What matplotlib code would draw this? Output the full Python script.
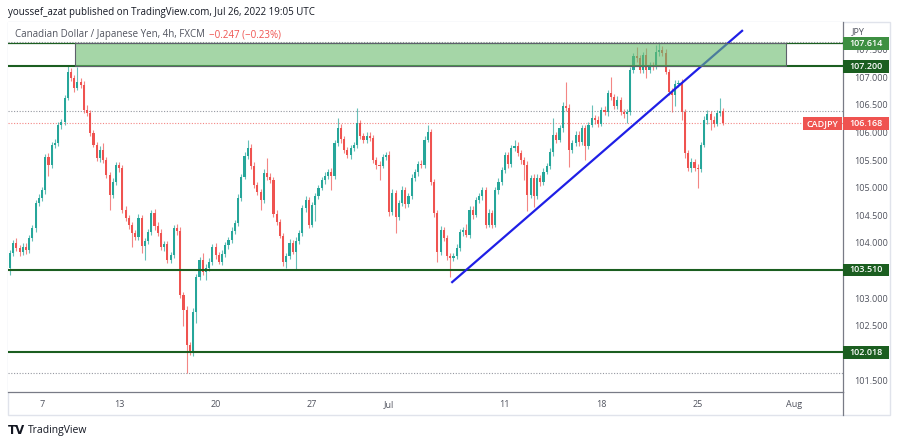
import matplotlib
matplotlib.use("Agg")
import matplotlib.pyplot as plt
import matplotlib.transforms as mtransforms
from matplotlib.patches import Rectangle
from matplotlib.lines import Line2D
import numpy as np

plt.rcParams['font.family'] = ['Open Sans', 'DejaVu Sans']

# ---------------------------------------------------------------------------
# CADJPY 4h candles
# ---------------------------------------------------------------------------
first_open = 103.55
closes = [
    103.82, 104.00, 103.91, 103.84, 103.93, 103.87, 104.09, 104.27, 104.72, 104.82,
    104.96, 105.56, 105.41, 105.78, 105.81, 106.14, 106.19, 106.63, 107.10, 106.99,
    106.81, 106.92, 106.86, 106.41, 106.36, 105.99, 105.78, 105.54, 105.68, 105.50,
    105.23, 104.87, 105.10, 105.41, 105.36, 104.60, 104.45, 104.33, 104.18, 104.11,
    104.45, 103.95, 104.04, 104.20, 104.54, 104.31, 104.18, 103.93, 103.98, 103.69,
    103.78, 104.27, 104.22, 103.06, 102.79, 102.15, 102.03, 102.75, 103.38, 103.69,
    103.47, 103.55, 103.66, 103.93, 103.78, 103.66, 103.80, 103.96, 104.05, 104.22,
    104.36, 104.82, 105.20, 105.58, 105.72, 105.40, 105.05, 104.92, 104.78, 105.27,
    105.20, 105.14, 104.53, 104.38, 104.13, 103.66, 103.76, 104.00, 103.84, 104.04,
    104.18, 104.63, 104.78, 104.33, 104.69, 104.85, 105.00, 105.14, 105.21, 105.29,
    105.21, 105.81, 106.08, 105.88, 105.68, 105.59, 105.72, 105.78, 106.17, 105.94,
    105.87, 105.94, 105.90, 105.50, 105.41, 105.40, 105.56, 105.59, 104.56, 104.91,
    104.47, 104.72, 104.96, 104.71, 104.85, 105.18, 105.29, 105.43, 105.41, 105.87,
    106.01, 105.10, 104.54, 103.84, 104.24, 104.09, 103.76, 103.73, 103.76, 103.91,
    104.20, 104.24, 104.15, 104.60, 104.51, 104.78, 104.85, 104.96, 104.33, 104.54,
    104.33, 104.96, 105.10, 105.32, 105.59, 105.43, 105.72, 105.76, 105.63, 105.50,
    105.41, 104.87, 105.18, 104.85, 105.18, 105.10, 105.29, 105.40, 105.65, 105.96,
    105.87, 106.08, 106.48, 106.45, 105.68, 105.81, 105.96, 105.83, 106.08, 105.76,
    106.14, 106.26, 106.23, 106.16, 106.41, 106.37, 106.72, 106.64, 106.48, 106.59,
    106.37, 106.34, 106.37, 107.13, 107.39, 107.35, 107.13, 107.41, 107.13, 107.21,
    107.19, 107.46, 107.50, 107.44, 107.10, 106.74, 106.68, 106.88, 106.90, 106.37,
    105.63, 105.36, 105.47, 105.36, 105.34, 105.78, 106.23, 106.34, 106.23, 106.16,
    106.36, 106.38, 106.168,
]

# wick lengths above / below the body (JPY)
up_wick = [
    0.05, 0.06, 0.08, 0.05, 0.07, 0.06, 0.05, 0.06, 0.05, 0.07,
    0.06, 0.05, 0.07, 0.05, 0.08, 0.05, 0.06, 0.05, 0.12, 0.07,
    0.05, 0.27, 0.06, 0.07, 0.08, 0.05, 0.06, 0.05, 0.07, 0.12,
    0.06, 0.05, 0.07, 0.05, 0.06, 0.05, 0.07, 0.06, 0.05, 0.06,
    0.07, 0.06, 0.05, 0.06, 0.05, 0.08, 0.06, 0.07, 0.05, 0.06,
    0.05, 0.06, 0.07, 0.06, 0.05, 0.06, 0.05, 0.07, 0.06, 0.05,
    0.12, 0.06, 0.07, 0.05, 0.06, 0.05, 0.07, 0.06, 0.05, 0.06,
    0.05, 0.06, 0.05, 0.06, 0.15, 0.07, 0.06, 0.05, 0.06, 0.07,
    0.27, 0.06, 0.05, 0.07, 0.06, 0.05, 0.06, 0.07, 0.05, 0.06,
    0.05, 0.06, 0.07, 0.06, 0.05, 0.06, 0.05, 0.06, 0.07, 0.05,
    0.06, 0.05, 0.18, 0.07, 0.06, 0.05, 0.06, 0.05, 0.28, 0.06,
    0.05, 0.07, 0.06, 0.05, 0.06, 0.07, 0.05, 0.06, 0.08, 0.06,
    0.05, 0.06, 0.07, 0.06, 0.05, 0.06, 0.05, 0.06, 0.07, 0.06,
    0.13, 0.06, 0.05, 0.06, 0.07, 0.05, 0.06, 0.05, 0.06, 0.07,
    0.06, 0.05, 0.10, 0.06, 0.07, 0.05, 0.06, 0.05, 0.06, 0.07,
    0.05, 0.06, 0.07, 0.05, 0.06, 0.05, 0.06, 0.10, 0.06, 0.05,
    0.06, 0.07, 0.05, 0.06, 0.07, 0.05, 0.06, 0.05, 0.06, 0.30,
    0.05, 0.06, 0.07, 0.44, 0.06, 0.05, 0.06, 0.07, 0.05, 0.06,
    0.05, 0.24, 0.06, 0.07, 0.05, 0.06, 0.05, 0.28, 0.06, 0.07,
    0.05, 0.06, 0.05, 0.06, 0.05, 0.16, 0.06, 0.05, 0.12, 0.06,
    0.07, 0.13, 0.114, 0.06, 0.07, 0.05, 0.06, 0.07, 0.05, 0.06,
    0.05, 0.06, 0.07, 0.05, 0.06, 0.05, 0.06, 0.07, 0.05, 0.06,
    0.05, 0.25, 0.06,
]
dn_wick = [
    0.13, 0.06, 0.05, 0.07, 0.06, 0.08, 0.05, 0.06, 0.07, 0.05,
    0.06, 0.07, 0.20, 0.05, 0.06, 0.05, 0.07, 0.06, 0.05, 0.06,
    0.07, 0.05, 0.06, 0.05, 0.07, 0.06, 0.05, 0.06, 0.07, 0.05,
    0.06, 0.27, 0.05, 0.06, 0.07, 0.05, 0.06, 0.07, 0.25, 0.06,
    0.05, 0.13, 0.26, 0.06, 0.05, 0.07, 0.06, 0.05, 0.07, 0.06,
    0.05, 0.06, 0.07, 0.06, 0.30, 0.50, 0.06, 0.07, 0.20, 0.05,
    0.06, 0.15, 0.05, 0.06, 0.07, 0.05, 0.06, 0.05, 0.07, 0.06,
    0.05, 0.06, 0.07, 0.05, 0.06, 0.07, 0.05, 0.06, 0.18, 0.05,
    0.06, 0.05, 0.07, 0.06, 0.05, 0.07, 0.11, 0.06, 0.05, 0.32,
    0.06, 0.05, 0.07, 0.06, 0.05, 0.30, 0.06, 0.05, 0.07, 0.06,
    0.25, 0.05, 0.06, 0.07, 0.05, 0.06, 0.07, 0.05, 0.06, 0.05,
    0.06, 0.07, 0.05, 0.06, 0.07, 0.26, 0.05, 0.06, 0.07, 0.05,
    0.29, 0.06, 0.05, 0.07, 0.06, 0.05, 0.06, 0.07, 0.05, 0.06,
    0.05, 0.06, 0.07, 0.18, 0.06, 0.05, 0.07, 0.35, 0.06, 0.05,
    0.06, 0.07, 0.05, 0.06, 0.07, 0.05, 0.06, 0.07, 0.06, 0.05,
    0.06, 0.05, 0.07, 0.06, 0.05, 0.07, 0.06, 0.05, 0.06, 0.07,
    0.27, 0.30, 0.06, 0.20, 0.05, 0.07, 0.06, 0.05, 0.06, 0.07,
    0.06, 0.05, 0.07, 0.06, 0.30, 0.05, 0.06, 0.07, 0.05, 0.25,
    0.06, 0.05, 0.07, 0.06, 0.05, 0.06, 0.07, 0.05, 0.06, 0.05,
    0.06, 0.07, 0.17, 0.05, 0.06, 0.07, 0.05, 0.06, 0.14, 0.05,
    0.06, 0.05, 0.07, 0.06, 0.05, 0.07, 0.31, 0.20, 0.06, 0.14,
    0.10, 0.06, 0.07, 0.05, 0.35, 0.06, 0.05, 0.07, 0.18, 0.06,
    0.05, 0.06, 0.03,
]

# time axis (bar index of first bar of the day)
date_ticks = [10, 34, 64, 94, 118, 154, 184, 214, 244]
date_labels = ["7", "13", "20", "27", "Jul", "11", "18", "25", "Aug"]

# price scale labels shown by the chart
price_ticks = [101.5, 102.5, 103.0, 104.0, 104.5, 105.0, 105.5, 106.0, 106.5, 107.0, 107.5]

# drawings
levels = [107.200, 103.510, 102.018]
zone_top, zone_bottom = 107.614, 107.200
zone_start, zone_end = 20.3, 241.5
trend_x = [137.6, 227.8]
trend_y = [103.29, 107.84]
prev_close = 106.39
last_price = 106.168
low_line = 101.645

UP = '#26a69a'
DOWN = '#ef5350'
LEVEL = '#1b5e20'

opens = [first_open] + closes[:-1]
o = np.array(opens)
c = np.array(closes)
hi = np.maximum(o, c) + np.array(up_wick)
lo = np.minimum(o, c) - np.array(dn_wick)
idx = np.arange(len(closes))
cols = np.where(c >= o, UP, DOWN)

W, H = 900, 445
fig = plt.figure(figsize=(9, 4.45), dpi=100)
ax = fig.add_axes([8 / W, 1 - 392 / H, (843 - 8) / W, (392 - 22) / H])

# candles
ax.vlines(idx, lo, hi, colors=cols, linewidth=0.8, alpha=0.7, zorder=2)
body = np.abs(c - o)
body = np.where(body < 0.015, 0.015, body)
ax.bar(idx, body, bottom=np.minimum(o, c), width=0.66, color=cols, linewidth=0, zorder=3)

# horizontal levels
for lv in levels:
    ax.axhline(lv, color=LEVEL, linewidth=1.5, zorder=4)
ax.axhline(zone_top, color=LEVEL, linewidth=0.9, zorder=4)

# dotted price lines
ax.axhline(107.63, color='#9598a1', linewidth=0.8, linestyle=(0, (1, 1.5)), zorder=1)
ax.axhline(prev_close, color='#9598a1', linewidth=0.8, linestyle=(0, (1, 1.5)), zorder=1)
ax.axhline(last_price, color=DOWN, linewidth=0.8, linestyle=(0, (1, 1.5)), alpha=0.7, zorder=1)
ax.axhline(low_line, color='#9598a1', linewidth=0.8, linestyle=(0, (1, 1.5)), zorder=1)

# trend line
ax.plot(trend_x, trend_y, color='#1f1fe6', linewidth=1.6, zorder=5)

# green zone (drawn over the line, semi transparent)
ax.add_patch(Rectangle((zone_start, zone_bottom), zone_end - zone_start, zone_top - zone_bottom,
                       facecolor='#69bb6c', alpha=0.6, edgecolor='none', zorder=6))
ax.add_patch(Rectangle((zone_start, zone_bottom), zone_end - zone_start, zone_top - zone_bottom,
                       facecolor='none', edgecolor='#5d606b', linewidth=0.8, zorder=6))

ax.set_xlim(-0.6, 259.2)
ax.set_ylim(101.30, 108.00)

# axes styling
for s in ['left', 'top']:
    ax.spines[s].set_visible(False)
ax.spines['right'].set_color('#787b86')
ax.spines['bottom'].set_color('#787b86')
ax.spines['right'].set_linewidth(0.9)
ax.spines['bottom'].set_linewidth(0.9)

ax.yaxis.tick_right()
ax.set_yticks(price_ticks)
ax.set_yticklabels([f"{v:.3f}" for v in price_ticks])
ax.tick_params(axis='y', length=0, pad=8, labelsize=6.5, labelcolor='#50535e')
ax.set_xticks(date_ticks)
ax.set_xticklabels(date_labels)
ax.tick_params(axis='x', length=0, pad=6, labelsize=6.5, labelcolor='#50535e')

# price labels on the scale
trans = mtransforms.blended_transform_factory(ax.transAxes, ax.transData)
lab_w = 46 / 835
half = 0.115


def price_tag(price, text, face, x0=1.0, w=lab_w):
    ax.add_patch(Rectangle((x0, price - half), w, 2 * half, transform=trans,
                           facecolor=face, edgecolor='none', clip_on=False, zorder=20))
    ax.text(x0 + w / 2, price, text, transform=trans, ha='center', va='center',
            color='white', fontsize=6.5, fontweight='semibold', zorder=21, clip_on=False)


price_tag(zone_top, "107.614", '#3d8f41')
price_tag(107.200, "107.200", LEVEL)
price_tag(103.510, "103.510", LEVEL)
price_tag(102.018, "102.018", LEVEL)
price_tag(last_price, "106.168", DOWN)
price_tag(last_price, "CADJPY", DOWN, x0=(803 - 8) / 835, w=39 / 835)

ax.text(1.011, 107.82, "JPY", transform=trans, ha='left', va='center',
        color='#50535e', fontsize=6.5, clip_on=False)

# legend line inside the pane
fig.text(15 / W, 1 - 35 / H, "Canadian Dollar / Japanese Yen, 4h, FXCM", color='#50535e',
         fontsize=7, va='center', ha='left')
fig.text(209 / W, 1 - 35 / H, "\u22120.247 (\u22120.23%)", color=DOWN,
         fontsize=7, va='center', ha='left')

# outer frame and separators
fig.add_artist(Rectangle((8 / W, 1 - 415 / H), (890 - 8) / W, (415 - 22) / H,
                         transform=fig.transFigure, facecolor='none',
                         edgecolor='#e0e3eb', linewidth=1, zorder=0))
fig.add_artist(Line2D([843 / W, 843 / W], [1 - 415 / H, 1 - 392 / H],
                      transform=fig.transFigure, color='#787b86', linewidth=0.9))

# header / footer
fig.text(8 / W, 1 - 13 / H, "youssef_azat published on TradingView.com, Jul 26, 2022 19:05 UTC",
         color='#131722', fontsize=7.0, va='center', ha='left')
fig.text(8 / W, 1 - 431 / H, "TV", color='#131722', fontsize=8.5, fontweight='bold',
         va='center', ha='left', family='DejaVu Sans')
fig.text(28 / W, 1 - 431 / H, "TradingView", color='#131722', fontsize=7.5,
         va='center', ha='left')

fig.savefig("out.png", dpi=100)
